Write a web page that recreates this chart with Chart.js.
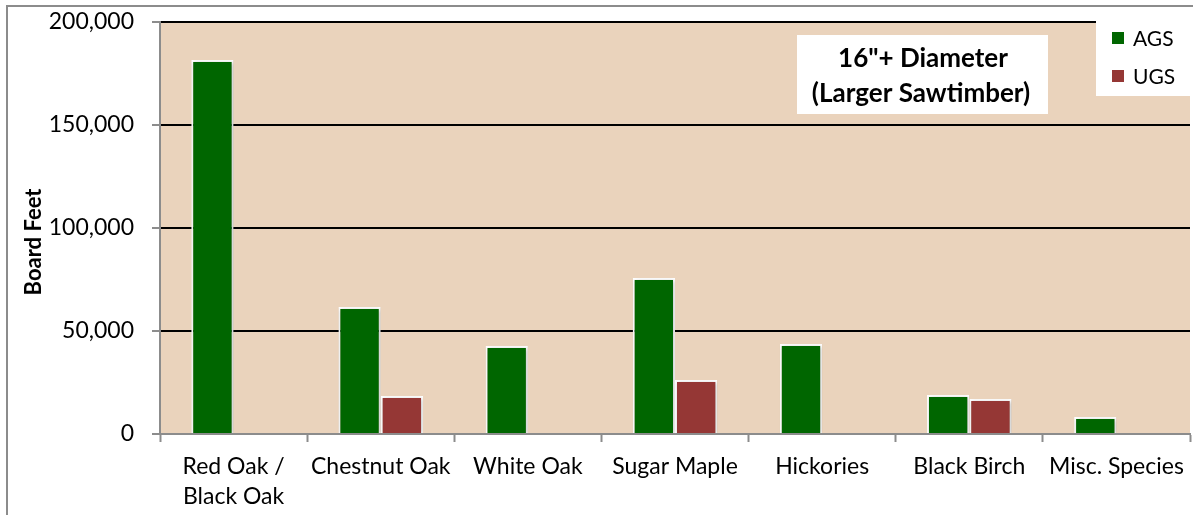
<!DOCTYPE html>
<html><head><meta charset="utf-8">
<script src="https://cdn.jsdelivr.net/npm/chart.js@4/dist/chart.umd.min.js"></script>
<style>html,body{margin:0;padding:0;background:#fff;}#wrap{width:1193px;height:515px;position:relative;}</style>
</head><body><div id="wrap"><canvas id="c" width="1193" height="515"></canvas></div>
<script>
const categories = [["Red Oak /","Black Oak"],"Chestnut Oak","White Oak","Sugar Maple","Hickories","Black Birch","Misc. Species"];
const agsValues = [181500, 61700, 42700, 75700, 43700, 18900, 8250];
const ugsValues = [null, 18400, null, 26200, null, 17000, null];
const seriesNames = ["AGS","UGS"];
const yTicks = [0, 50000, 100000, 150000, 200000];
const titleLines = ['16"+ Diameter', '(Larger Sawtimber)'];
const yTitle = "Board Feet";

const FONT = "Lato, 'Open Sans', sans-serif";
const colors = ["#006600", "#953735"];

const decor = {
  id: 'decor',
  beforeDraw(chart) {
    const {ctx, chartArea: a} = chart;
    ctx.save();
    ctx.fillStyle = '#fff';
    ctx.fillRect(0,0,chart.width,chart.height);
    ctx.strokeStyle = '#8c8c8c'; ctx.lineWidth = 2;
    ctx.beginPath(); ctx.moveTo(7, 515); ctx.lineTo(7, 6); ctx.lineTo(1193, 6); ctx.stroke();
    ctx.fillStyle = '#EAD3BC';
    ctx.fillRect(a.left, a.top, a.right - a.left, a.bottom - a.top);
    ctx.restore();
  },
  beforeDatasetsDraw(chart) {
    chart.ctx.save();
    chart.ctx.shadowColor = 'rgba(0,0,0,0.25)';
    chart.ctx.shadowBlur = 4;
    chart.ctx.shadowOffsetX = 1;
    chart.ctx.shadowOffsetY = 1;
  },
  afterDatasetsDraw(chart) {
    chart.ctx.restore();
  },
  afterDraw(chart) {
    const {ctx, chartArea: a} = chart;
    ctx.save();
    // y axis title
    ctx.save();
    ctx.translate(34, 242);
    ctx.rotate(-Math.PI / 2);
    ctx.fillStyle = '#000';
    ctx.font = "bold 22px " + FONT;
    ctx.textAlign = 'center'; ctx.textBaseline = 'middle';
    ctx.fillText(yTitle, 0, 0);
    ctx.restore();
    // title box
    ctx.fillStyle = '#fff';
    ctx.fillRect(797, 35, 251, 79);
    ctx.fillStyle = '#000';
    ctx.font = "bold 26px " + FONT;
    ctx.textAlign = 'center'; ctx.textBaseline = 'middle';
    ctx.fillText(titleLines[0], 923, 59);
    ctx.fillText(titleLines[1], 921, 94);
    // legend box
    ctx.fillStyle = '#fff';
    ctx.fillRect(1096, 18, 97, 78);
    ctx.font = "21px " + FONT;
    ctx.textAlign = 'left';
    chart.data.datasets.forEach((ds, i) => {
      const y = 38 + i * 38;
      ctx.fillStyle = ds.backgroundColor;
      ctx.fillRect(1112, y - 6, 12, 12);
      ctx.fillStyle = '#000';
      ctx.fillText(ds.label, 1133, y + 1);
    });
    ctx.restore();
  }
};

new Chart(document.getElementById('c'), {
  type: 'bar',
  data: {
    labels: categories,
    datasets: [
      {label: seriesNames[0], data: agsValues, backgroundColor: colors[0], borderColor: '#ffffff', borderWidth: 2},
      {label: seriesNames[1], data: ugsValues, backgroundColor: colors[1], borderColor: '#ffffff', borderWidth: 2}
    ]
  },
  options: {
    responsive: false,
    animation: false,
    devicePixelRatio: 1,
    layout: {padding: {top: 22, right: 3, left: 0, bottom: 0}},
    datasets: {bar: {categoryPercentage: 0.575, barPercentage: 1.0}},
    plugins: {legend: {display: false}, tooltip: {enabled: false}, title: {display: false}},
    scales: {
      x: {
        grid: {offset: true, drawOnChartArea: false, drawTicks: true, tickLength: 8, tickColor: '#8c8c8c', tickWidth: 2},
        border: {color: '#8c8c8c', width: 2},
        ticks: {color: '#000', font: {family: FONT, size: 23, lineHeight: 1.3}, padding: 10, maxRotation: 0, autoSkip: false},
        afterFit(s) { s.height = 515 - 434; s.paddingLeft = 0; s.paddingRight = 0; }
      },
      y: {
        min: 0, max: 200000,
        afterBuildTicks(s) { s.ticks = yTicks.map(v => ({value: v})); },
        grid: {color: ctx => ctx.tick && ctx.tick.value === 0 ? '#8c8c8c' : '#000', lineWidth: 2, drawTicks: true, tickLength: 8, tickColor: '#8c8c8c', tickWidth: 2},
        border: {color: '#8c8c8c', width: 2},
        ticks: {color: '#000', font: {family: FONT, size: 23}, padding: 18, callback: v => v.toLocaleString('en-US')},
        title: {display: false},
        afterFit(s) { s.width = 160; s.paddingTop = 0; s.paddingBottom = 0; }
      }
    }
  },
  plugins: [decor]
});
</script>
</body></html>
